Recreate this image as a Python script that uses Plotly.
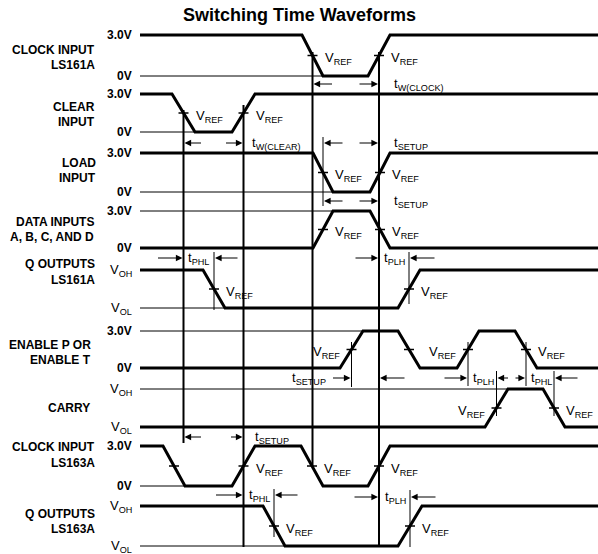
import plotly.graph_objects as go

# ---------------- data: waveform breakpoints (time) and logic levels ----------------
clock161_t = [140, 302, 323, 368, 390, 598]
clock161_lv = [1, 1, 0, 0, 1, 1]
clear_t = [140, 172, 195, 232, 255, 598]
clear_lv = [1, 1, 0, 0, 1, 1]
load_t = [140, 313, 333, 370, 390, 598]
load_lv = [1, 1, 0, 0, 1, 1]
data_t = [140, 313, 333, 370, 390, 598]
data_lv = [0, 0, 1, 1, 0, 0]
q161_t = [140, 203, 225, 398, 420, 598]
q161_lv = [1, 1, 0, 0, 1, 1]
enable_t = [140, 340, 363, 398, 420, 457, 479, 515, 537, 598]
enable_lv = [0, 0, 1, 1, 0, 0, 1, 1, 0, 0]
carry_t = [140, 485, 508, 543, 565, 598]
carry_lv = [0, 0, 1, 1, 0, 0]
clock163_t = [140, 163, 185, 232, 255, 301, 323, 368, 390, 598]
clock163_lv = [1, 1, 0, 0, 1, 1, 0, 0, 1, 1]
q163_t = [140, 263, 285, 398, 422, 598]
q163_lv = [1, 1, 0, 0, 1, 1]

signal_names = [["CLOCK INPUT", "LS161A"], ["CLEAR", "INPUT"], ["LOAD", "INPUT"],
                ["DATA INPUTS", "A, B, C, AND D"], ["Q OUTPUTS", "LS161A"],
                ["ENABLE P OR", "ENABLE T"], ["CARRY"], ["CLOCK INPUT", "LS163A"],
                ["Q OUTPUTS", "LS163A"]]
high_labels = ["3.0V", "3.0V", "3.0V", "3.0V", "V<sub>OH</sub>", "3.0V", "V<sub>OH</sub>", "3.0V", "V<sub>OH</sub>"]
low_labels = ["0V", "0V", "0V", "0V", "V<sub>OL</sub>", "0V", "V<sub>OL</sub>", "0V", "V<sub>OL</sub>"]
# which level has the thin reference line (the one not yet reached at start)
ref_level = [0, 0, 0, 1, 0, 1, 1, 0, 0]
# VREF label side per transition ('r' right, 'l' left, '' none)
vref_sides = [["r", "r"], ["r", "r"], ["r", "r"], ["r", "r"], ["r", "r"],
              ["l", "", "l", "r"], ["l", "r"], ["", "r", "r", "r"], ["r", "r"]]

# timing measurements: label, start time, end time
meas_labels = ["t<sub>W(CLOCK)</sub>", "t<sub>W(CLEAR)</sub>", "t<sub>SETUP</sub>", "t<sub>SETUP</sub>",
               "t<sub>PHL</sub>", "t<sub>PLH</sub>", "t<sub>SETUP</sub>", "t<sub>PLH</sub>",
               "t<sub>PHL</sub>", "t<sub>SETUP</sub>", "t<sub>PHL</sub>", "t<sub>PLH</sub>"]
meas_t0 = [312.5, 183.5, 323, 323, 183.5, 379, 351.5, 468, 526, 183.5, 243.5, 379]
meas_t1 = [379, 243.5, 379, 379, 214, 409, 379, 496.5, 554, 243.5, 274, 410]

# ---------------- layout (pixel geometry) ----------------
row_top = [35, 94, 153, 211, 270, 331, 389, 446, 506]
row_bot = [76, 132, 192, 248, 308, 368, 427, 486, 546]
name_y = [[50, 65], [107, 122], [163, 178], [222, 237], [264, 280], [345, 360], [408], [447, 463], [514, 529]]
name_x = [97, 97, 98, 96, 97, 93, 92, 97, 97]
meas_y = [84, 143, 143, 201, 258, 258, 378, 378, 378, 437, 495, 497]
meas_style = ["in", "in", "in", "in", "out", "out", "outL", "out", "out", "in", "out", "out"]
meas_lab_x = [392, 250, 392, 392, 186, 382, 328, 471, 529, 253, 247, 383]
meas_arrow_len = [(20, 20), (18, 18), (20, 20), (20, 20), (26, 24), (24, 26), (19, 26),
                  (24, 12), (11, 24), (18, 13), (28, 24), (25, 26)]
long_guides = [(183.5, 110, 443), (243.5, 105, 547), (312.5, 52, 467), (379, 52, 547)]
short_guides = [(323, 137, 206), (214, 252, 310), (409, 252, 304), (351.5, 342, 387),
                (468, 342, 386), (496.5, 371, 416), (526, 342, 386), (554, 371, 416),
                (274, 489, 537), (410, 490, 547)]

waves = [(clock161_t, clock161_lv), (clear_t, clear_lv), (load_t, load_lv), (data_t, data_lv),
         (q161_t, q161_lv), (enable_t, enable_lv), (carry_t, carry_lv),
         (clock163_t, clock163_lv), (q163_t, q163_lv)]

LBL = "Liberation Sans, Arial, Helvetica, sans-serif"
TXT = "Liberation Sans, Arial, Helvetica, sans-serif"
BLACK = "#000000"

fig = go.Figure()
ann = []


def lvl_y(lv, i):
    return row_bot[i] - lv * (row_bot[i] - row_top[i])


def add_line(xs, ys, w):
    fig.add_trace(go.Scatter(x=xs, y=ys, mode="lines", line=dict(color=BLACK, width=w),
                             hoverinfo="skip", showlegend=False))


def level_font(txt):
    if "V<" in txt:
        return dict(family=TXT, size=13)
    return dict(family=LBL, size=12, weight="bold")


for i, (ts, lvs) in enumerate(waves):
    ys = [lvl_y(v, i) for v in lvs]
    rl = ref_level[i]
    reach = next(t for t, v in zip(ts, lvs) if v == rl)
    ry = lvl_y(rl, i)
    add_line([ts[0], reach], [ry, ry], 1)
    add_line(ts, ys, 3)
    ann.append(dict(x=134, y=row_top[i], text=high_labels[i], xanchor="right", yanchor="middle",
                    font=level_font(high_labels[i])))
    ann.append(dict(x=134, y=row_bot[i], text=low_labels[i], xanchor="right", yanchor="middle",
                    font=level_font(low_labels[i])))
    for k, nm in enumerate(signal_names[i]):
        ann.append(dict(x=name_x[i], y=name_y[i][k], text=nm, xanchor="right", yanchor="middle",
                        font=dict(family=LBL, size=12, weight="bold")))
    vref_y = (row_top[i] + row_bot[i]) / 2
    e = 0
    for j in range(len(ts) - 1):
        if lvs[j] != lvs[j + 1]:
            cx = (ts[j] + ts[j + 1]) / 2
            add_line([cx - 5, cx + 5], [vref_y, vref_y], 1.5)
            side = vref_sides[i][e]
            if side == "r":
                ann.append(dict(x=cx + 10, y=vref_y + 3, text="V<sub>REF</sub>", xanchor="left",
                                yanchor="middle", font=dict(family=TXT, size=13)))
            elif side == "l":
                ann.append(dict(x=cx - 10, y=vref_y + 3, text="V<sub>REF</sub>", xanchor="right",
                                yanchor="middle", font=dict(family=TXT, size=13)))
            e += 1

for gx, y0, y1 in long_guides:
    add_line([gx, gx], [y0, y1], 2)
for gx, y0, y1 in short_guides:
    add_line([gx, gx], [y0, y1], 1)


def arrow(x_head, x_tail, y):
    ann.append(dict(x=x_head, y=y, ax=x_tail, ay=y, axref="x", ayref="y", xref="x", yref="y",
                    text="", showarrow=True, arrowhead=2, arrowsize=1.1, arrowwidth=1.2,
                    arrowcolor=BLACK, standoff=0, startstandoff=0))


for k in range(len(meas_labels)):
    t0, t1, y = meas_t0[k], meas_t1[k], meas_y[k]
    la, lb = meas_arrow_len[k]
    st = meas_style[k]
    if st == "in":
        arrow(t0 + 1, t0 + 1 + la, y)
        arrow(t1 - 1, t1 - 1 - lb, y)
        anchor = "left"
    else:
        arrow(t0 - 1, t0 - 1 - la, y)
        arrow(t1 + 1, t1 + 1 + lb, y)
        anchor = "right" if st == "outL" else "left"
    ann.append(dict(x=meas_lab_x[k], y=y, text=meas_labels[k], xanchor=anchor, yanchor="middle",
                    font=dict(family=TXT, size=13)))

ann.append(dict(x=299, y=15, text="Switching Time Waveforms", xanchor="center", yanchor="middle",
                font=dict(family=TXT, size=18, weight="bold")))

for a in ann:
    a.setdefault("showarrow", False)
    a.setdefault("xref", "x")
    a.setdefault("yref", "y")
    a.setdefault("font", {})
    a["font"].setdefault("color", BLACK)

fig.update_layout(
    width=598, height=554, autosize=False,
    margin=dict(l=0, r=0, t=0, b=0),
    paper_bgcolor="white", plot_bgcolor="white",
    xaxis=dict(range=[0, 598], visible=False, fixedrange=True),
    yaxis=dict(range=[554, 0], visible=False, fixedrange=True),
    annotations=ann,
    showlegend=False,
)

fig.write_html("out.html", config={"displayModeBar": False},
               post_script="document.body.style.margin='0';document.body.style.overflow='hidden';")
